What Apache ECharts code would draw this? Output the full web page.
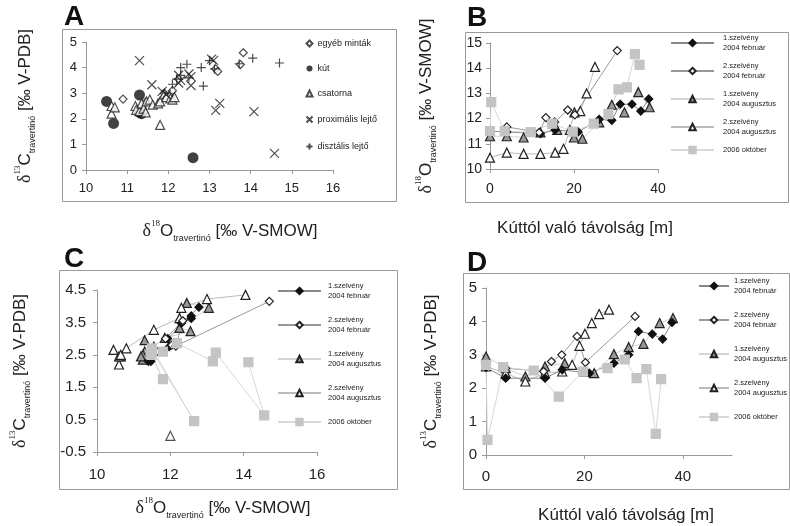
<!DOCTYPE html>
<html>
<head>
<meta charset="utf-8">
<script src="https://cdn.jsdelivr.net/npm/echarts@6/dist/echarts.min.js"></script>
<style>
html, body { margin: 0; padding: 0; background: #fff; }
#chart { width: 790px; height: 526px; }
</style>
</head>
<body>
<div id="chart"></div>
<script>
// ---- panel A: d18O vs d13C by sample type ----
const egyeb = [[10.9, 2.77], [11.45, 2.65], [11.9, 3.0], [12.05, 2.9], [12.1, 3.1], [13.15, 3.95], [13.2, 3.85], [13.75, 4.12], [13.82, 4.58]]
const kut = [[10.5, 2.68], [10.67, 1.82], [11.3, 2.93], [11.3, 2.25], [11.35, 2.2], [12.6, 0.48]]
const csatorna = [[10.62, 2.5], [10.62, 2.2], [10.7, 2.45], [11.2, 2.5], [11.22, 2.35], [11.3, 2.3], [11.35, 2.6],
  [11.4, 2.4], [11.45, 2.25], [11.47, 2.68], [11.55, 2.75], [11.62, 2.55], [11.75, 2.6], [11.8, 2.68],
  [11.9, 2.95], [11.95, 2.85], [12.05, 2.8], [12.1, 2.75], [12.15, 2.85], [11.8, 1.76]]
const proximalis = [[11.3, 4.27], [11.6, 3.33], [11.85, 3.07], [11.95, 2.95], [12.25, 3.4], [12.25, 3.7], [12.3, 3.5],
  [12.5, 3.75], [12.55, 3.3], [12.55, 3.65], [13.05, 4.33], [13.1, 4.28], [13.15, 2.33], [13.25, 2.6],
  [14.08, 2.28], [14.58, 0.65]]
const disztalis = [[12.1, 3.35], [12.2, 3.55], [12.3, 3.7], [12.3, 4.0], [12.45, 4.13], [12.5, 3.6], [12.8, 4.0],
  [12.85, 3.28], [13.0, 4.27], [13.12, 3.95], [13.72, 4.15], [14.05, 4.37], [14.7, 4.18]]
const namesA = ['egyéb minták', 'kút', 'csatorna', 'proximális lejtő', 'disztális lejtő']

// ---- panels B, C, D: profiles (distance, d18O, d13C) ----
const dist1 = [0, 4, 12, 15.5, 21, 26, 29, 31, 33.8, 35.9, 37.8]
const o18_1 = [11.5, 11.47, 11.4, 11.55, 11.47, 11.97, 11.93, 12.57, 12.57, 12.3, 12.78]
const c13_1 = [2.62, 2.3, 2.3, 2.55, 2.45, 2.75, 3.0, 3.7, 3.62, 3.47, 3.97]

const dist2 = [4, 11.7, 13.3, 15.4, 18.5, 20.2, 30.3]
const o18_2 = [11.67, 11.45, 12.04, 11.87, 12.34, 12.15, 14.7]
const c13_2 = [2.6, 2.5, 2.8, 3.0, 3.55, 2.77, 4.15]

const dist3 = [0, 4, 8, 12, 16, 20, 22, 26, 29, 32, 35.3, 38]
const o18_3 = [11.3, 11.3, 11.25, 11.45, 11.55, 11.25, 11.2, 11.85, 12.55, 12.25, 13.05, 12.45]
const c13_3 = [2.95, 2.6, 2.35, 2.65, 2.75, 2.5, 2.45, 3.02, 3.23, 3.33, 3.95, 4.1]

const dist4 = [0, 4, 8, 12, 15.5, 17.5, 19, 20.1, 21.5, 23, 25]
const o18_4 = [10.45, 10.65, 10.6, 10.6, 10.65, 10.8, 11.55, 12.25, 12.3, 13.0, 14.05]
const c13_4 = [2.65, 2.45, 2.2, 2.45, 2.5, 2.7, 3.27, 3.63, 3.95, 4.22, 4.35]

const dist5 = [0, 0.3, 3.5, 9.7, 14.8, 19.7, 24.7, 28.2, 30.6, 32.6, 34.5, 35.6]
const o18_5 = [11.5, 12.65, 11.5, 11.46, 11.8, 11.48, 11.8, 12.18, 13.16, 13.24, 14.56, 14.13]
const c13_5 = [2.7, 0.45, 2.63, 2.53, 1.75, 2.5, 2.6, 2.86, 2.3, 2.57, 0.63, 2.27]

// point only in panel C
const extraC4 = [[12.0, 0.0]]

const namesBD = ['1.szelvény 2004 február', '2.szelvény 2004 február', '1.szelvény 2004 augusztus', '2.szelvény 2004 augusztus', '2006 október']
const dists = [dist1, dist2, dist3, dist4, dist5]
const o18s = [o18_1, o18_2, o18_3, o18_4, o18_5]
const c13s = [c13_1, c13_2, c13_3, c13_4, c13_5]

const zip = (a, b) => a.map((v, i) => [v, b[i]])

const FONT = 'Liberation Sans'
const TXT = '#222'
const rich = {
  d: { fontFamily: 'Liberation Serif', fontSize: 18, lineHeight: 24, color: TXT },
  sup: { fontFamily: 'Liberation Serif', fontSize: 9, lineHeight: 9, verticalAlign: 'top', color: TXT },
  m: { fontFamily: FONT, fontSize: 17, lineHeight: 24, color: TXT },
  sub: { fontFamily: FONT, fontSize: 9, lineHeight: 9, verticalAlign: 'bottom', color: TXT }
}
const nameO = '{d|δ}{sup|18}{m|O}{sub|travertinó}{m| [‰ V-SMOW]}'
const nameC = '{d|δ}{sup|13}{m|C}{sub|travertinó}{m| [‰ V-PDB]}'
const nameDist = 'Kúttól való távolság [m]'

const axisBase = (fs, margin) => ({
  type: 'value',
  axisLine: { show: true, onZero: false, lineStyle: { color: '#999', width: 1 } },
  axisTick: { show: true, length: 4, lineStyle: { color: '#999' } },
  axisLabel: { color: TXT, fontSize: fs, fontFamily: FONT, margin: margin },
  splitLine: { show: false }
})

const xAxis = [
  Object.assign(axisBase(13, 12), { gridIndex: 0, min: 10, max: 16, interval: 1, name: nameO, nameLocation: 'middle', nameGap: 49, nameTextStyle: { rich: rich, padding: [0, 0, 0, 41] } }),
  Object.assign(axisBase(14, 13), { gridIndex: 1, min: 0, max: 40, interval: 20, name: nameDist, nameLocation: 'middle', nameGap: 51, nameTextStyle: { fontSize: 17, fontFamily: FONT, color: TXT, padding: [0, 0, 0, 22] } }),
  Object.assign(axisBase(15, 15), { gridIndex: 2, min: 10, max: 16, interval: 2, name: nameO, nameLocation: 'middle', nameGap: 44, nameTextStyle: { rich: rich, padding: [0, 0, 0, 32] } }),
  Object.assign(axisBase(15, 14), { gridIndex: 3, min: 0, max: 50, interval: 20, name: nameDist, nameLocation: 'middle', nameGap: 52, nameTextStyle: { fontSize: 17, fontFamily: FONT, color: TXT, padding: [0, 0, 0, 34] } })
]
xAxis[3].axisLabel.showMaxLabel = false

const yAxis = [
  Object.assign(axisBase(13, 9), { gridIndex: 0, min: 0, max: 5, interval: 1, name: nameC, nameLocation: 'middle', nameGap: 49, nameTextStyle: { rich: rich } }),
  Object.assign(axisBase(14, 8), { gridIndex: 1, min: 10, max: 15, interval: 1, name: nameO, nameLocation: 'middle', nameGap: 52, nameTextStyle: { rich: rich } }),
  Object.assign(axisBase(15, 11), { gridIndex: 2, min: -0.5, max: 4.5, interval: 1, name: nameC, nameLocation: 'middle', nameGap: 65, nameTextStyle: { rich: rich } }),
  Object.assign(axisBase(15, 9), { gridIndex: 3, min: 0, max: 5, interval: 1, name: nameC, nameLocation: 'middle', nameGap: 43, nameTextStyle: { rich: rich } })
]

// marker styles for panel A
const styleA = [
  { data: egyeb, symbol: 'diamond', size: 8, fill: '#fff', border: '#222', bw: 1.2 },
  { data: kut, symbol: 'circle', size: 11, fill: '#111', border: '#111', bw: 0 },
  { data: csatorna, symbol: 'triangle', size: 9, fill: '#fff', border: '#222', bw: 1.2 },
  { data: proximalis, symbol: 'path://M0,0L10,10M10,0L0,10', size: 9, fill: 'none', border: '#222', bw: 1.2 },
  { data: disztalis, symbol: 'path://M5,0L5,10M0,5L10,5', size: 9, fill: 'none', border: '#222', bw: 1.2 }
]

// marker / line styles for profile series
const styleBD = [
  { symbol: 'diamond', size: 8, fill: '#111', border: '#111', line: '#888' },
  { symbol: 'diamond', size: 8, fill: '#fff', border: '#222', line: '#999' },
  { symbol: 'triangle', size: 9, fill: '#999', border: '#222', line: '#d4d4d4' },
  { symbol: 'triangle', size: 9, fill: '#fff', border: '#222', line: '#bbb' },
  { symbol: 'rect', size: 9, fill: '#c4c4c4', border: '#c4c4c4', line: '#d8d8d8' }
]

const series = []
styleA.forEach((s, i) => {
  series.push({
    type: 'scatter', name: namesA[i], xAxisIndex: 0, yAxisIndex: 0,
    symbol: s.symbol, symbolSize: s.size, data: s.data,
    itemStyle: { color: s.fill, borderColor: s.border, borderWidth: s.bw },
    emphasis: { disabled: true }
  })
})

const panels = [
  { axis: 1, xs: dists, ys: o18s },
  { axis: 2, xs: o18s, ys: c13s },
  { axis: 3, xs: dists, ys: c13s }
]
const drawOrder = [2, 3, 0, 1, 4]
panels.forEach(p => {
  drawOrder.forEach(k => {
    const s = styleBD[k]
    series.push({
      type: 'line', name: namesBD[k], xAxisIndex: p.axis, yAxisIndex: p.axis,
      data: zip(p.xs[k], p.ys[k]),
      symbol: s.symbol, symbolSize: s.size, showSymbol: true,
      lineStyle: { color: s.line, width: 1 },
      itemStyle: { color: s.fill, borderColor: s.border, borderWidth: 1.2 },
      emphasis: { disabled: true }
    })
  })
})
series.push({
  type: 'scatter', name: namesBD[3], xAxisIndex: 2, yAxisIndex: 2, data: extraC4,
  symbol: 'triangle', symbolSize: 9,
  itemStyle: { color: '#fff', borderColor: '#222', borderWidth: 1.2 },
  emphasis: { disabled: true }
})

const legendFmt = n => n.replace(/^(\d\.szelvény) /, '$1\n')
const legendBD = (left, top, w, gap, pad) => ({
  data: namesBD, orient: 'vertical', left: left, top: top, padding: 0,
  itemWidth: w, itemHeight: 8, itemGap: gap, formatter: legendFmt,
  selectedMode: false,
  textStyle: { fontSize: 7.5, lineHeight: 10, fontFamily: FONT, color: TXT, padding: [0, 0, 0, pad] }
})

const titleStyle = { fontSize: 28, fontWeight: 'bold', fontFamily: FONT, color: '#111' }
const box = (x, y, w, h) => ({
  type: 'rect', shape: { x: x, y: y, width: w, height: h }, z: -1, silent: true,
  style: { fill: 'none', stroke: '#999', lineWidth: 1 }
})

const option = {
  animation: false,
  backgroundColor: '#fff',
  title: [
    { text: 'A', left: 64, top: 3, padding: 0, textStyle: titleStyle },
    { text: 'B', left: 467, top: 4, padding: 0, textStyle: titleStyle },
    { text: 'C', left: 64, top: 245, padding: 0, textStyle: titleStyle },
    { text: 'D', left: 467, top: 249, padding: 0, textStyle: titleStyle }
  ],
  graphic: [box(62.5, 29.5, 334, 172), box(465.5, 32.5, 323, 170), box(59.5, 270.5, 338, 219), box(463.5, 273.5, 326, 216)],
  grid: [
    { left: 86, top: 42, width: 247, height: 128 },
    { left: 490, top: 43, width: 168, height: 126 },
    { left: 97, top: 290, width: 220, height: 162 },
    { left: 486, top: 288, width: 246, height: 167 }
  ],
  legend: [
    {
      data: namesA, orient: 'vertical', left: 304, top: 39, padding: 0,
      itemWidth: 6, itemHeight: 6, itemGap: 16, selectedMode: false,
      textStyle: { fontSize: 9, fontFamily: FONT, color: TXT }
    },
    legendBD(670, 33, 43, 8, 4),
    legendBD(277, 281, 43, 14, 2),
    legendBD(698, 276, 30, 14, 0)
  ],
  xAxis: xAxis,
  yAxis: yAxis,
  series: series
}

const chart = echarts.init(document.getElementById('chart'))
chart.setOption(option)
</script>
</body>
</html>
